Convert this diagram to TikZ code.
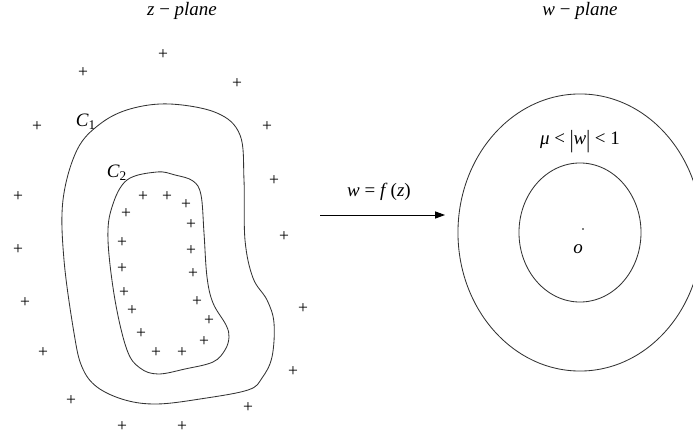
\documentclass[tikz,border=0pt]{standalone}
\usepackage{fontspec}
\setmainfont{Liberation Serif}
\usepackage{tikz}
\usetikzlibrary{arrows.meta,positioning}

\newcommand{\tallbar}{\raisebox{-0.2em}{\scalebox{1}[1.3]{|}}}

\tikzset{
  plusmark/.style={inner sep=0pt, font=\fontsize{12.5}{12.5}\selectfont},
  contour/.style={line width=0.6pt, black!80},
  planelabel/.style={inner sep=1pt, font=\fontsize{13.5}{15}\selectfont},
}

\begin{document}
\begin{tikzpicture}[x=0.025cm, y=-0.025cm]
  \useasboundingbox (0,0) rectangle (693,438);

  % titles
  \node[planelabel] (zplane) at (182,11) {\textit{z} − \textit{plane}};
  \node[planelabel] (wplane) at (580,11) {\textit{w} − \textit{plane}};

  % contours in the z-plane
  \draw[contour] plot[smooth cycle, tension=0.6] coordinates {
    (170,104) (217,113) (240,135) (244,180) (245,240) (253,278) (267,300)
    (274,323) (272,357) (262,378) (248,390) (200,399) (157,404) (125,400)
    (97,387) (82,367) (74,333) (64,260) (63,200) (77,150) (100,124) (130,109)};
  \draw[contour] plot[smooth cycle, tension=0.6] coordinates {
    (157,172) (175,175) (193,181) (201,195) (204,233) (207,277) (213,303)
    (226,325) (229,337) (225,350) (213,362) (185,369) (158,374) (140,368)
    (127,350) (115,300) (108,240) (112,207) (127,180)};
  \node[planelabel] (c1) at (86,122) {\textit{C}\textsubscript{1}};
  \node[planelabel] (c2) at (117,173) {\textit{C}\textsubscript{2}};

  % points outside C1 and inside C2
  \foreach \px/\py [count=\i] in {163/55, 83/73, 237/84, 37/127, 267/127,
      274/181, 18/197, 284/237, 18/250, 25/303, 303/309, 43/353, 293/372,
      71/401, 248/408, 122/427, 182/427}
    \node[plusmark] (out\i) at (\px,\py) {+};
  \foreach \px/\py [count=\i] in {143/197, 167/197, 186/205, 126/214, 191/225,
      122/243, 191/251, 122/269, 193/274, 124/293, 197/302, 132/311, 209/321,
      141/334, 204/342, 156/353, 182/353}
    \node[plusmark] (in\i) at (\px,\py) {+};

  % mapping
  \coordinate (mapstart) at (320,215);
  \coordinate (mapend) at (445,215);
  \draw[line width=0.6pt, -{Triangle[length=7pt, width=5pt]}] (mapstart) -- (mapend);
  \node[planelabel] (fz) at (379,192) {\textit{w} = \textit{f}\,(\textit{z})};

  % annulus in the w-plane
  \draw[contour] (580,232.5) ellipse [x radius=3.05cm, y radius=3.4625cm];
  \draw[contour] (580,232.5) ellipse [x radius=1.525cm, y radius=1.7375cm];
  \node[planelabel] (ring) at (580,142) {\textit{μ} < \tallbar\textit{w}\tallbar{} < 1};
  \fill (583,229) circle (0.6pt);
  \node[planelabel] (origin) at (578,249) {\textit{o}};
\end{tikzpicture}
\end{document}
